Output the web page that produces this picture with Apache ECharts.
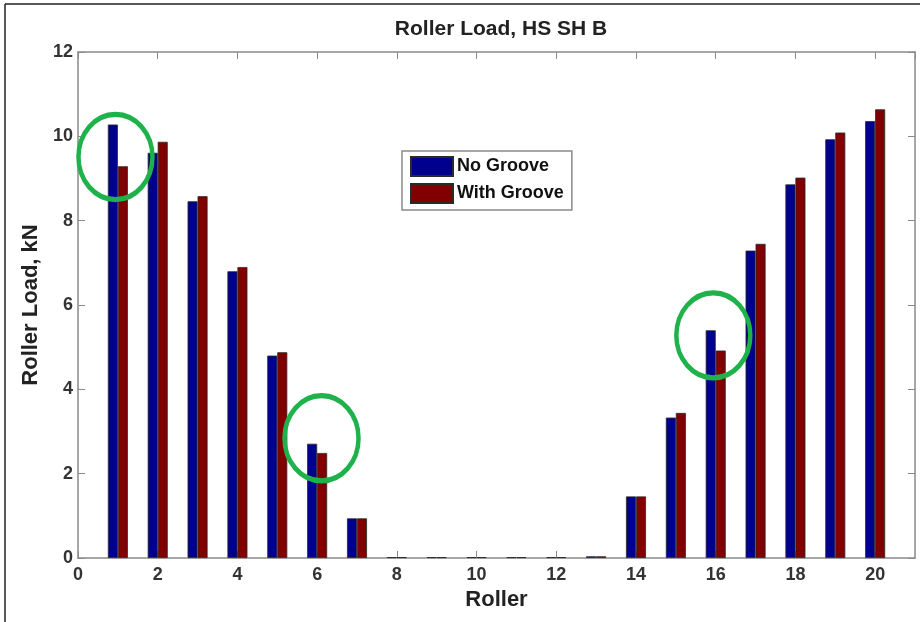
<!DOCTYPE html>
<html>
<head>
<meta charset="utf-8">
<script src="https://cdn.jsdelivr.net/npm/echarts@6/dist/echarts.min.js"></script>
<style>
html,body{margin:0;padding:0;background:#fff;}
#c{width:920px;height:622px;}
</style>
</head>
<body>
<div id="c"></div>
<script>
var rollers = [1,2,3,4,5,6,7,8,9,10,11,12,13,14,15,16,17,18,19,20];
var noGroove   = [10.28,9.61,8.46,6.80,4.80,2.71,0.94,0.02,0.02,0.02,0.02,0.02,0.04,1.46,3.33,5.40,7.29,8.86,9.93,10.36];
var withGroove = [9.29,9.87,8.58,6.90,4.88,2.49,0.94,0.02,0.02,0.02,0.02,0.02,0.04,1.46,3.44,4.92,7.45,9.02,10.09,10.64];
var seriesNames = ['No Groove','With Groove'];
var titleText = 'Roller Load, HS SH B';
var xName = 'Roller';
var yName = 'Roller Load, kN';
var highlights = [[0.94,9.51],[6.11,2.84],[15.94,5.28]];

var chart = echarts.init(document.getElementById('c'), null, {renderer:'canvas'});
var font = 'Arial, "Liberation Sans", Helvetica, sans-serif';
var axisGray = '#8a8a8a';
function pairs(vals){ return rollers.map(function(r,i){ return [r, vals[i]]; }); }

var option = {
  animation:false,
  backgroundColor:'#fff',
  title:{text:titleText,left:496,top:14,textAlign:'center',
    textStyle:{fontFamily:font,fontSize:21,fontWeight:'bold',color:'#222'}},
  grid:{left:78,right:5,top:52,bottom:64,containLabel:false},
  legend:{orient:'vertical',left:402,top:151,icon:'rect',itemWidth:42,itemHeight:19,itemGap:6,
    padding:[5,8,6,8],borderColor:'#8a8a8a',borderWidth:1.5,backgroundColor:'#fff',
    textStyle:{fontFamily:font,fontSize:18,fontWeight:'bold',color:'#111',padding:[0,0,0,-1]},
    data:seriesNames},
  xAxis:[
    {type:'value',min:0,max:21,interval:2,position:'bottom',
     name:xName,nameLocation:'middle',nameGap:30,
     nameTextStyle:{fontFamily:font,fontSize:22,fontWeight:'bold',color:'#222'},
     axisLine:{show:true,onZero:false,lineStyle:{color:axisGray,width:1.5}},
     axisTick:{show:true,inside:true,length:7,lineStyle:{color:axisGray}},
     axisLabel:{showMaxLabel:false,margin:8,fontFamily:font,fontSize:18,fontWeight:'bold',color:'#333'},
     splitLine:{show:false}},
    {type:'value',min:0,max:21,interval:2,position:'top',
     axisLine:{show:true,onZero:false,lineStyle:{color:axisGray,width:1.5}},
     axisTick:{show:true,inside:true,length:7,lineStyle:{color:axisGray}},
     axisLabel:{show:false},splitLine:{show:false}}
  ],
  yAxis:[
    {type:'value',min:0,max:12,interval:2,position:'left',
     name:yName,nameLocation:'middle',nameGap:36,nameRotate:90,
     nameTextStyle:{fontFamily:font,fontSize:22,fontWeight:'bold',color:'#222'},
     axisLine:{show:true,onZero:false,lineStyle:{color:axisGray,width:1.5}},
     axisTick:{show:true,inside:true,length:7,lineStyle:{color:axisGray}},
     axisLabel:{margin:5,fontFamily:font,fontSize:18,fontWeight:'bold',color:'#333'},
     splitLine:{show:false}},
    {type:'value',min:0,max:12,interval:2,position:'right',
     axisLine:{show:true,onZero:false,lineStyle:{color:axisGray,width:1.5}},
     axisTick:{show:true,inside:true,length:7,lineStyle:{color:axisGray}},
     axisLabel:{show:false},splitLine:{show:false}}
  ],
  series:[
    {name:seriesNames[0],type:'bar',xAxisIndex:0,yAxisIndex:0,data:pairs(noGroove),
     barWidth:10,barGap:'0%',
     itemStyle:{color:'#00008f',borderColor:'#2a2a2a',borderWidth:0.8}},
    {name:seriesNames[1],type:'bar',xAxisIndex:0,yAxisIndex:0,data:pairs(withGroove),
     barWidth:10,barGap:'0%',
     itemStyle:{color:'#800000',borderColor:'#2a2a2a',borderWidth:0.8}}
  ]
};
chart.setOption(option);

var g = [
  {type:'line',shape:{x1:5,y1:4,x2:920,y2:4},style:{stroke:'#222',lineWidth:1.5},z:100},
  {type:'line',shape:{x1:5,y1:4,x2:5,y2:622},style:{stroke:'#222',lineWidth:1.5},z:100}
];
highlights.forEach(function(h){
  var p = chart.convertToPixel({gridIndex:0}, h);
  g.push({type:'circle',x:p[0],y:p[1],scaleY:1.15,shape:{cx:0,cy:0,r:37},
    style:{fill:'none',stroke:'#1fb24a',lineWidth:4.5},z:100});
});
chart.setOption({graphic:g});
</script>
</body>
</html>
